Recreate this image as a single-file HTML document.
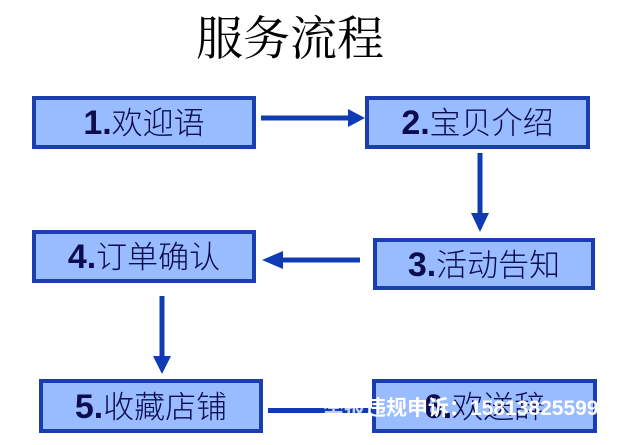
<!DOCTYPE html>
<html><head><meta charset="utf-8">
<style>
html,body{margin:0;padding:0;background:#fff;}
body{width:620px;height:445px;position:relative;overflow:hidden;}
.title{position:absolute;left:0;width:580px;top:10px;text-align:center;font-family:"Liberation Serif","Noto Serif CJK SC","Noto Serif CJK JP",serif;font-size:47px;line-height:60px;color:#000;}
.box{position:absolute;box-sizing:border-box;border:4px solid #1a3db0;background:#99bbff;text-align:center;color:#0c0c4e;white-space:nowrap;}
.box span.n{font-family:"Liberation Sans",sans-serif;font-weight:bold;font-size:34px;}
.box span.c{font-family:"Liberation Sans","Noto Sans CJK SC",sans-serif;font-size:31px;font-weight:300;}
.wm{position:absolute;left:323px;top:396px;font-family:"Liberation Sans","Noto Sans CJK SC",sans-serif;font-weight:bold;font-size:21px;line-height:26px;color:#fff;white-space:nowrap;}
</style></head><body>
<div class="title">服务流程</div>

<svg width="620" height="445" style="position:absolute;left:0;top:0">
  <g fill="#0f3cb4" stroke="none">
    <rect x="261" y="115.5" width="90" height="5"/>
    <polygon points="348,109 365,118 348,127"/>
    <rect x="477.5" y="153" width="5" height="62"/>
    <polygon points="471,213 489,213 480,232"/>
    <rect x="281" y="257.5" width="79" height="5"/>
    <polygon points="283,251 283,269 262,260"/>
    <rect x="159.5" y="296" width="5" height="62"/>
    <polygon points="153,356 171,356 162,374"/>
    <rect x="268" y="408" width="104" height="5"/>
  </g>
</svg>

<div class="box" style="left:32px;top:96px;width:224px;height:53px;line-height:47px;"><span class="n">1.</span><span class="c">欢迎语</span></div>
<div class="box" style="left:365px;top:96px;width:225px;height:53px;line-height:47px;"><span class="n">2.</span><span class="c">宝贝介绍</span></div>
<div class="box" style="left:373px;top:238px;width:222px;height:52px;line-height:46px;"><span class="n">3.</span><span class="c">活动告知</span></div>
<div class="box" style="left:32px;top:230px;width:224px;height:53px;line-height:47px;"><span class="n">4.</span><span class="c">订单确认</span></div>
<div class="box" style="left:39px;top:379px;width:224px;height:54px;line-height:48px;"><span class="n">5.</span><span class="c">收藏店铺</span></div>
<div class="box" style="left:372px;top:379px;width:225px;height:54px;line-height:48px;"><span class="n">6.</span><span class="c">欢送辞</span></div>

<div class="wm"><span style="opacity:0.75">举报</span>违规申诉：15813825599</div>
</body></html>
